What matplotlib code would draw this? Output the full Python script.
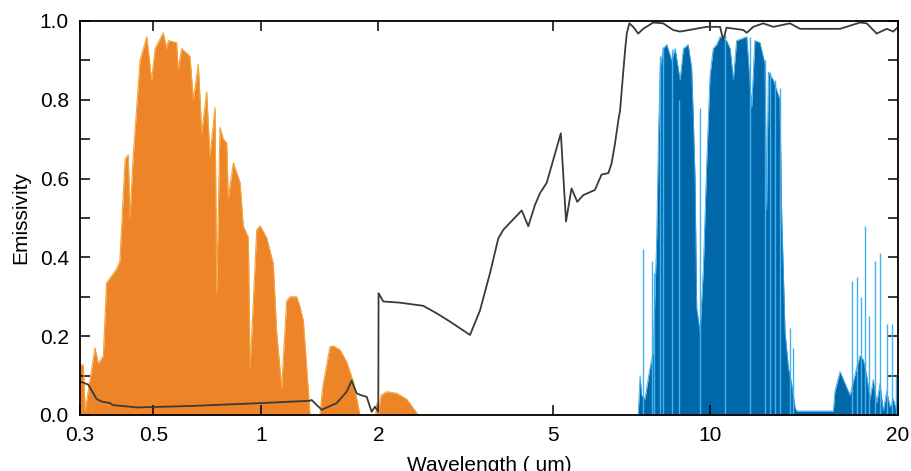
import numpy as np
import matplotlib
matplotlib.use("Agg")
import matplotlib.pyplot as plt

plt.rcParams['font.family'] = ['Liberation Sans', 'DejaVu Sans']

# solar spectrum (normalised)
sun_wl = [0.300, 0.307, 0.311, 0.333, 0.341, 0.353, 0.361, 0.387, 0.396, 0.411,
          0.420, 0.425, 0.435, 0.456, 0.478, 0.494, 0.506, 0.533, 0.545, 0.551,
          0.581, 0.587, 0.600, 0.633, 0.647, 0.668, 0.683, 0.705, 0.720, 0.744,
          0.752, 0.768, 0.785, 0.802, 0.810, 0.837, 0.874, 0.892, 0.922, 0.932,
          0.942, 0.973, 0.994, 1.034, 1.075, 1.097, 1.130, 1.164, 1.187, 1.235,
          1.259, 1.284, 1.310, 1.336, 1.417, 1.440, 1.503, 1.533, 1.595, 1.659,
          1.725, 1.795, 1.970, 1.980, 1.995, 2.000, 2.030, 2.090, 2.200, 2.320,
          2.465, 20.0]
sun_val = [0.127, 0.127, 0.010, 0.170, 0.130, 0.150, 0.335, 0.370, 0.390, 0.650,
           0.660, 0.500, 0.660, 0.900, 0.960, 0.850, 0.930, 0.970, 0.930, 0.950,
           0.945, 0.875, 0.930, 0.910, 0.800, 0.890, 0.715, 0.820, 0.655, 0.780,
           0.310, 0.730, 0.700, 0.690, 0.550, 0.640, 0.590, 0.480, 0.450, 0.120,
           0.200, 0.470, 0.480, 0.450, 0.385, 0.210, 0.070, 0.290, 0.300, 0.300,
           0.275, 0.240, 0.120, 0.000, 0.000, 0.070, 0.173, 0.175, 0.165, 0.135,
           0.085, 0.000, 0.000, 0.030, 0.000, 0.000, 0.050, 0.059, 0.055, 0.040,
           0.000, 0.000]

# atmospheric window (dark body)
atm_wl = [7.28, 7.34, 7.39, 7.50, 7.67, 7.78, 7.90, 7.96, 8.02, 8.13,
          8.26, 8.44, 8.57, 8.76, 8.89, 9.08, 9.22, 9.29, 9.36, 9.43,
          9.57, 9.71, 9.85, 10.0, 10.12, 10.25, 10.38, 10.63, 10.77, 10.90,
          11.03, 11.45, 11.66, 11.80, 12.02, 12.25, 12.32, 12.40, 12.63, 12.94,
          13.03, 13.19, 13.35, 13.51, 13.68, 13.76, 15.76, 15.85, 16.15, 16.45,
          16.76, 17.18, 17.39, 17.60, 17.82, 18.04, 18.26, 18.49, 18.72, 18.94,
          19.19, 19.42, 19.66, 19.90, 20.0]
atm_val = [0.00, 0.10, 0.05, 0.04, 0.12, 0.16, 0.45, 0.70, 0.88, 0.93,
           0.94, 0.90, 0.93, 0.85, 0.93, 0.94, 0.88, 0.75, 0.60, 0.27,
           0.21, 0.37, 0.63, 0.86, 0.93, 0.94, 0.96, 0.95, 0.93, 0.85,
           0.95, 0.96, 0.78, 0.95, 0.945, 0.89, 0.52, 0.87, 0.85, 0.80,
           0.50, 0.21, 0.12, 0.08, 0.02, 0.01, 0.01, 0.06, 0.11, 0.08,
           0.05, 0.12, 0.15, 0.14, 0.10, 0.04, 0.09, 0.03, 0.08, 0.01,
           0.06, 0.02, 0.04, 0.01, 0.00]

# light blue spikes
spike_wl = [7.44, 7.73, 7.81, 8.02, 8.13, 8.45, 8.72, 9.57, 10.56, 11.59,
            12.25, 12.47, 12.71, 12.94, 13.43, 13.60, 16.86, 17.20, 17.45, 17.71,
            17.98, 18.37, 18.72, 19.21, 19.53, 19.85]
spike_val = [0.42, 0.39, 0.36, 0.91, 0.935, 0.93, 0.80, 0.78, 0.965, 0.96,
             0.90, 0.87, 0.85, 0.83, 0.22, 0.17, 0.34, 0.35, 0.30, 0.48,
             0.25, 0.39, 0.41, 0.23, 0.23, 0.10]

# emissivity of the sample
em_wl = [0.300, 0.318, 0.337, 0.349, 0.370, 0.378, 0.435, 0.445, 0.647, 0.994,
         1.336, 1.349, 1.432, 1.564, 1.659, 1.709, 1.760, 1.795, 1.868, 1.923,
         1.961, 2.000, 2.003, 2.053, 2.241, 2.531, 2.715, 2.911, 3.233, 3.406,
         3.590, 3.749, 3.849, 4.238, 4.387, 4.543, 4.664, 4.830, 5.17, 5.29,
         5.42, 5.56, 5.71, 6.01, 6.19, 6.38, 6.47, 6.57, 6.67, 6.72,
         6.81, 6.87, 6.92, 7.00, 7.12, 7.28, 7.44, 7.78, 8.13, 8.50,
         8.76, 9.29, 9.85, 10.38, 10.50, 10.63, 11.31, 11.45, 11.73, 12.17,
         12.63, 13.43, 13.94, 15.00, 16.15, 17.39, 17.82, 18.49, 19.19, 19.66,
         20.0]
em_val = [0.085, 0.077, 0.040, 0.034, 0.030, 0.025, 0.020, 0.019, 0.023, 0.030,
          0.036, 0.038, 0.013, 0.030, 0.059, 0.087, 0.055, 0.051, 0.046, 0.008,
          0.021, 0.008, 0.309, 0.288, 0.285, 0.277, 0.258, 0.237, 0.203, 0.265,
          0.360, 0.448, 0.470, 0.519, 0.479, 0.533, 0.563, 0.589, 0.715, 0.491,
          0.575, 0.541, 0.558, 0.571, 0.610, 0.614, 0.638, 0.689, 0.749, 0.774,
          0.867, 0.926, 0.968, 0.994, 0.985, 0.968, 0.980, 0.996, 0.994, 0.977,
          0.973, 0.979, 0.985, 0.985, 0.951, 0.983, 0.977, 0.970, 0.985, 0.994,
          0.985, 0.994, 0.980, 0.980, 0.980, 0.996, 0.994, 0.968, 0.980, 0.973,
          0.985]

xticks = [0.3, 0.5, 1, 2, 5, 10, 20]
xtick_labels = ['0.3', '0.5', '1', '2', '5', '10', '20']

# the x axis of the original is not a plain log axis: piecewise log between ticks
tick_pos = [0, 73.3, 181, 298.3, 473.3, 630, 818]
log_ticks = np.log10(xticks)


def fwd(x):
    x = np.clip(np.asarray(x, dtype=float), 1e-6, None)
    return np.interp(np.log10(x), log_ticks, tick_pos)


def inv(y):
    return 10 ** np.interp(y, tick_pos, log_ticks)


fig = plt.figure(figsize=(9.11, 4.71), dpi=100)
ax = fig.add_axes([0.0878, 0.119, 0.8979, 0.8365])
ax.set_xscale('function', functions=(fwd, inv))

ax.fill_between(sun_wl, sun_val, 0, color='#EE8428', lw=0)
ax.plot(sun_wl, sun_val, color='#F3A53A', lw=0.8)

ax.vlines(spike_wl, 0, spike_val, color='#45B2F0', lw=1.0)
ax.fill_between(atm_wl, atm_val, 0, color='#0068A8', lw=0)
ax.plot(atm_wl, atm_val, color='#3AA6E6', lw=0.6)

ax.plot(em_wl, em_val, color='#3a3a3a', lw=1.3)

ax.set_xlim(0.3, 20)
ax.set_ylim(0, 1.0)
ax.set_xticks(xticks)
ax.set_xticklabels(xtick_labels)
ax.xaxis.set_minor_locator(matplotlib.ticker.NullLocator())
ax.set_yticks(np.arange(0, 1.01, 0.2))
ax.set_yticks(np.arange(0.1, 1.0, 0.2), minor=True)
ax.set_yticklabels(['0.0', '0.2', '0.4', '0.6', '0.8', '1.0'])

ax.tick_params(axis='both', which='both', direction='in', length=7, width=1.1,
               top=True, right=True, labelsize=15, pad=8, colors='black')
for s in ax.spines.values():
    s.set_linewidth(1.3)

ax.set_xlabel('Wavelength ( um)', fontsize=15, labelpad=8)
ax.set_ylabel('Emissivity', fontsize=15, labelpad=7)

fig.savefig('out.png', dpi=100)
